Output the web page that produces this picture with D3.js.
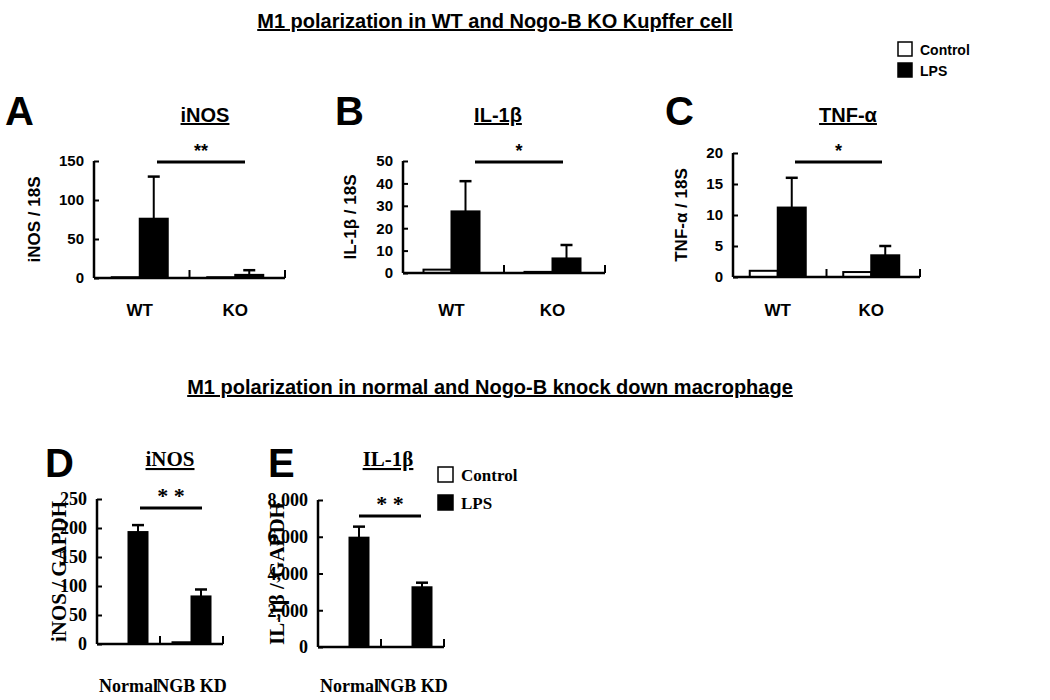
<!DOCTYPE html>
<html><head><meta charset="utf-8">
<script src="https://cdn.jsdelivr.net/npm/d3@7"></script>
<style>body{margin:0;background:#fff}svg{font-family:"Liberation Sans",Arial,sans-serif;font-weight:bold}</style>
</head><body><svg id="chart" width="1050" height="700"></svg>
<script>
// groups and series values
const groupsTop = ["WT", "KO"];
const groupsBottom = ["Normal", "NGB KD"];
const series = ["Control", "LPS"];

const inosKupffer = [[1, 76], [1, 4]];
const inosKupfferErr = [[null, 130], [null, 10]];
const il1bKupffer = [[1.5, 27.5], [0.5, 6.5]];
const il1bKupfferErr = [[null, 41], [null, 12.5]];
const tnfKupffer = [[1, 11.2], [0.8, 3.5]];
const tnfKupfferErr = [[null, 16], [null, 5]];
const inosMac = [[0, 193], [3, 82]];
const inosMacErr = [[null, 205], [null, 94]];
const il1bMac = [[0, 5950], [0, 3250]];
const il1bMacErr = [[null, 6550], [null, 3500]];

const ticksA = [0, 50, 100, 150];
const ticksB = [0, 10, 20, 30, 40, 50];
const ticksC = [0, 5, 10, 15, 20];
const ticksD = [0, 50, 100, 150, 200, 250];
const ticksE = [0, 2000, 4000, 6000, 8000];

const svg = d3.select("#chart");

function underlined(x, y, txt, size) {
  return svg.append("text").attr("x", x).attr("y", y).attr("text-anchor", "middle")
    .attr("font-size", size).attr("text-decoration", "underline").text(txt);
}

underlined(495, 28, "M1 polarization in WT and Nogo-B KO  Kupffer cell", 20);
underlined(490, 394, "M1 polarization in normal and Nogo-B knock down macrophage", 20);

function panel(p) {
  const fam = p.family || "Liberation Sans";
  const g = svg.append("g").attr("font-family", fam);
  const y = d3.scaleLinear().domain([0, p.max]).range([p.y0, p.y1]);
  const outer = d3.scaleBand().domain(p.groups).range([p.x0, p.x1]);
  const inner = d3.scaleBand().domain(series).range([0, p.barW * 2]);

  // bars
  p.groups.forEach((grp, gi) => {
    const cx = outer(grp) + outer.bandwidth() / 2 + p.shift;
    series.forEach((s, si) => {
      const v = p.values[gi][si];
      const bx = cx - p.barW + inner(s);
      g.append("rect").attr("x", bx).attr("y", y(v)).attr("width", inner.bandwidth())
        .attr("height", p.y0 - y(v)).attr("fill", si ? "#000" : "#fff")
        .attr("stroke", "#000").attr("stroke-width", 2);
      const e = p.err[gi][si];
      if (e != null) {
        const ex = bx + inner.bandwidth() / 2;
        g.append("line").attr("x1", ex).attr("x2", ex).attr("y1", y(v)).attr("y2", y(e))
          .attr("stroke", "#000").attr("stroke-width", 2);
        g.append("line").attr("x1", ex - 6).attr("x2", ex + 6).attr("y1", y(e)).attr("y2", y(e))
          .attr("stroke", "#000").attr("stroke-width", 2.5);
      }
    });
    g.append("text").attr("x", cx).attr("y", p.labelY).attr("text-anchor", "middle")
      .attr("font-size", p.labelSize).text(grp);
  });

  // axes
  const ya = g.append("g").attr("transform", `translate(${p.x0},0)`)
    .call(d3.axisLeft(y).tickValues(p.ticks).tickSize(-5).tickPadding(10));
  ya.select(".domain").attr("stroke-width", 2.5).attr("d", `M0,${p.y1}V${p.y0}`);
  ya.selectAll("line").attr("stroke-width", 2);
  ya.selectAll("text").attr("font-size", p.tickSize).attr("font-weight", "bold")
    .attr("font-family", fam);
  g.append("line").attr("x1", p.x0).attr("x2", p.x1).attr("y1", p.y0).attr("y2", p.y0)
    .attr("stroke", "#000").attr("stroke-width", 2.5);
  [outer(p.groups[1]), p.x1].forEach(tx => g.append("line").attr("x1", tx).attr("x2", tx)
    .attr("y1", p.y0).attr("y2", p.y0 - 8).attr("stroke", "#000").attr("stroke-width", 2));

  // significance bar
  g.append("line").attr("x1", p.sig[0]).attr("x2", p.sig[1]).attr("y1", p.sigY).attr("y2", p.sigY)
    .attr("stroke", "#000").attr("stroke-width", 3);
  g.append("text").attr("x", (p.sig[0] + p.sig[1]) / 2).attr("y", p.sigY - 5)
    .attr("text-anchor", "middle").attr("font-size", p.starSize).text(p.star);

  // y label, title, letter
  g.append("text").attr("transform", `translate(${p.ylabX},${(p.y0 + p.y1) / 2}) rotate(-90)`)
    .attr("text-anchor", "middle").attr("font-size", p.ylabSize).text(p.ylab);
  g.append("text").attr("x", p.titleX).attr("y", p.titleY).attr("text-anchor", "middle")
    .attr("font-size", p.titleSize).attr("text-decoration", "underline").text(p.title);
  g.append("text").attr("x", p.letterX).attr("y", p.letterY).attr("font-size", 40)
    .attr("font-family", "Liberation Sans").text(p.letter);
}

const topCfg = { y0: 278, labelY: 316, labelSize: 17, tickSize: 15, ylabSize: 17, titleSize: 20,
  titleY: 122, sigY: 162, starSize: 18, barW: 28, shift: -2, groups: groupsTop, letterY: 125 };

panel({ ...topCfg, values: inosKupffer, err: inosKupfferErr, max: 150, y1: 161, ticks: ticksA,
  x0: 94, x1: 285, sig: [157, 245], star: "**", ylab: "iNOS / 18S", ylabX: 40,
  title: "iNOS", titleX: 205, letter: "A", letterX: 5 });
panel({ ...topCfg, values: il1bKupffer, err: il1bKupfferErr, max: 50, y1: 161, y0: 273, ticks: ticksB,
  x0: 403, x1: 605, sig: [475, 563], star: "*", ylab: "IL-1β / 18S", ylabX: 356,
  title: "IL-1β", titleX: 498, letter: "B", letterX: 335 });
panel({ ...topCfg, values: tnfKupffer, err: tnfKupfferErr, max: 20, y1: 153, y0: 277, ticks: ticksC,
  x0: 733, x1: 920, sig: [795, 882], star: "*", ylab: "TNF-α / 18S", ylabX: 687,
  title: "TNF-α", titleX: 848, letter: "C", letterX: 665 });

const botCfg = { labelY: 692, labelSize: 18, tickSize: 18, ylabSize: 21, titleSize: 21, titleY: 466,
  starSize: 22, barW: 19, shift: 0, groups: groupsBottom, letterY: 477,
  family: "Liberation Sans Narrow" };

panel({ ...botCfg, values: inosMac, err: inosMacErr, max: 250, y1: 499, y0: 644, ticks: ticksD,
  x0: 97, x1: 223, sig: [140, 202], sigY: 508, star: "* *", ylab: "iNOS / GAPDH", ylabX: 66,
  title: "iNOS", titleX: 170, letter: "D", letterX: 45 });
panel({ ...botCfg, values: il1bMac, err: il1bMacErr, max: 8000, y1: 500, y0: 647, ticks: ticksE,
  x0: 318, x1: 444, sig: [359, 421], sigY: 516, star: "* *", ylab: "IL-1β / GAPDH", ylabX: 284,
  title: "IL-1β", titleX: 388, letter: "E", letterX: 268 });

// legends
function legend(x, y, gap, size, box, family) {
  series.forEach((s, i) => {
    svg.append("rect").attr("x", x).attr("y", y + i * gap).attr("width", box).attr("height", box)
      .attr("fill", i ? "#000" : "#fff").attr("stroke", "#000").attr("stroke-width", 1.5);
    svg.append("text").attr("x", x + box + 8).attr("y", y + i * gap + box - 1)
      .attr("font-size", size).attr("font-family", family || "Liberation Sans").text(s);
  });
}
legend(898, 42, 21, 14, 14);
legend(438, 467, 28, 17, 15, "Liberation Sans Narrow");
</script></body></html>
